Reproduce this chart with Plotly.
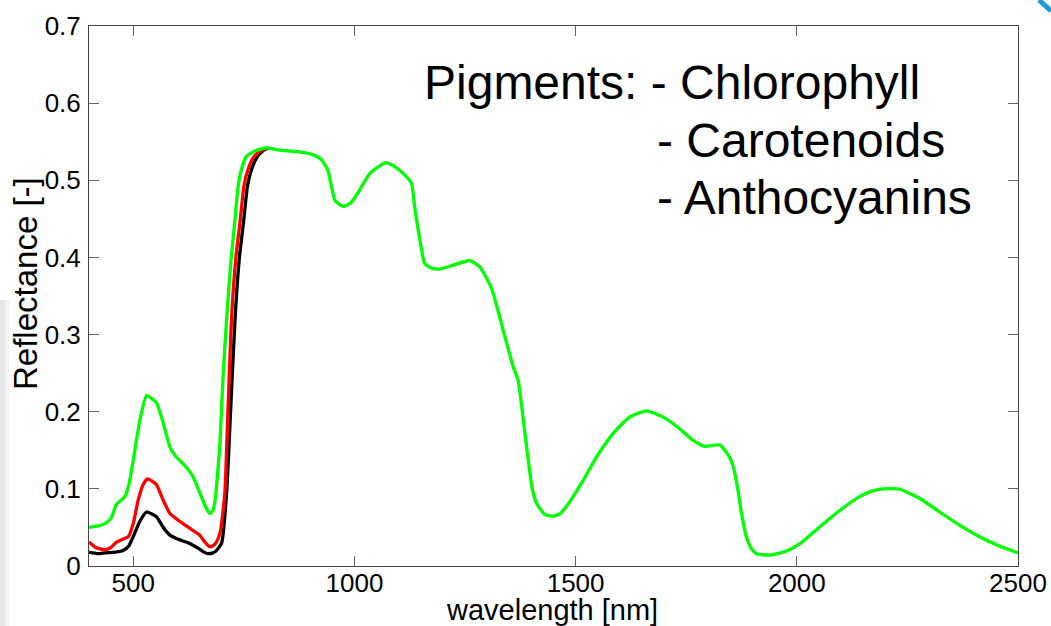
import plotly.graph_objects as go

# Leaf reflectance spectra (wavelength in nm, reflectance unitless)
wl_green = [400, 420, 436, 450, 462, 481, 490, 500, 515, 530, 540, 553, 568, 583, 595,
            605, 620, 635, 651, 665, 673, 680, 685, 690, 696, 703, 711, 720, 730, 737,
            745, 756, 775, 801, 831, 870, 907, 925, 940, 956, 974, 990, 1005, 1035, 1071,
            1090, 1110, 1129, 1136, 1148, 1159, 1175, 1193, 1223, 1261, 1283, 1310, 1336,
            1359, 1370, 1381, 1393, 1402, 1412, 1430, 1449, 1465, 1479, 1517, 1547, 1585,
            1622, 1660, 1698, 1735, 1765, 1792, 1826, 1848, 1858, 1867, 1876, 1886, 1898,
            1909, 1939, 1977, 2007, 2052, 2097, 2142, 2170, 2195, 2233, 2278, 2323, 2368,
            2413, 2459, 2500]
refl_green = [0.050, 0.052, 0.055, 0.062, 0.080, 0.090, 0.105, 0.137, 0.189, 0.221, 0.218,
              0.211, 0.185, 0.154, 0.143, 0.137, 0.128, 0.116, 0.094, 0.075, 0.068, 0.072,
              0.085, 0.115, 0.159, 0.245, 0.319, 0.390, 0.449, 0.492, 0.515, 0.531, 0.538,
              0.542, 0.539, 0.537, 0.533, 0.527, 0.513, 0.474, 0.466, 0.470, 0.481, 0.509,
              0.523, 0.518, 0.509, 0.496, 0.466, 0.423, 0.392, 0.386, 0.385, 0.390, 0.396,
              0.388, 0.360, 0.306, 0.258, 0.241, 0.193, 0.137, 0.100, 0.081, 0.067, 0.0645,
              0.068, 0.077, 0.111, 0.141, 0.172, 0.193, 0.201, 0.193, 0.178, 0.163, 0.155,
              0.157, 0.141, 0.125, 0.098, 0.065, 0.038, 0.022, 0.016, 0.014, 0.0195, 0.029,
              0.051, 0.072, 0.090, 0.097, 0.100, 0.0995, 0.0875, 0.070, 0.053, 0.038, 0.0256,
              0.017]

wl_red = [400, 415, 436, 450, 462, 477, 489, 500, 511, 522, 532, 545, 553, 568, 583, 600,
          620, 635, 650, 662, 673, 682, 688, 697, 707, 714, 722, 732, 742, 750, 760, 772,
          790, 801]
refl_red = [0.031, 0.024, 0.021, 0.024, 0.031, 0.035, 0.038, 0.055, 0.085, 0.105, 0.113,
            0.109, 0.105, 0.085, 0.068, 0.060, 0.052, 0.046, 0.040, 0.031, 0.025, 0.027,
            0.031, 0.045, 0.094, 0.200, 0.319, 0.400, 0.449, 0.492, 0.515, 0.530, 0.539,
            0.542]

wl_black = [400, 420, 436, 460, 477, 490, 500, 515, 530, 540, 553, 568, 583, 600, 620, 635,
            650, 660, 669, 680, 688, 700, 711, 720, 730, 740, 750, 758, 768, 780, 795, 805]
refl_black = [0.018, 0.016, 0.017, 0.018, 0.020, 0.026, 0.038, 0.058, 0.070, 0.068, 0.0636,
              0.050, 0.040, 0.035, 0.031, 0.027, 0.022, 0.018, 0.016, 0.017, 0.020, 0.030,
              0.094, 0.200, 0.319, 0.400, 0.449, 0.492, 0.515, 0.530, 0.539, 0.542]

x_ticks = [500, 1000, 1500, 2000, 2500]
y_ticks = [0, 0.1, 0.2, 0.3, 0.4, 0.5, 0.6, 0.7]
y_tick_text = ["0", "0.1", "0.2", "0.3", "0.4", "0.5", "0.6", "0.7"]

pigment_lines = ["Pigments: - Chlorophyll", "- Carotenoids", "- Anthocyanins"]

FONT = "Liberation Sans, Arial, sans-serif"
W, H = 1051, 626
ML, MR, MT, MB = 89, 33, 26, 60
PW, PH = W - ML - MR, H - MT - MB


def px_x(px):
    return (px - ML) / PW


def px_y(py):
    return (H - MB - py) / PH


fig = go.Figure()
for xs, ys, col in [(wl_black, refl_black, "#000000"),
                    (wl_red, refl_red, "#ff0000"),
                    (wl_green, refl_green, "#00ff00")]:
    fig.add_trace(go.Scatter(x=xs, y=ys, mode="lines",
                             line=dict(color=col, width=3.3, shape="spline", smoothing=0.5),
                             showlegend=False, hoverinfo="skip"))

axis_common = dict(showgrid=False, zeroline=False, showline=True, linecolor="#444444",
                   linewidth=1, mirror="ticks", ticks="inside", ticklen=10, tickwidth=1,
                   tickcolor="#666666", tickfont=dict(family=FONT, size=26, color="#000000"))

fig.update_xaxes(range=[400, 2500], tickvals=x_ticks, ticklabelstandoff=-6, **axis_common)
fig.update_yaxes(range=[0, 0.7], tickvals=y_ticks, ticktext=y_tick_text,
                 ticklabelstandoff=2, **axis_common)

annotations = [
    dict(text="wavelength [nm]", xref="paper", yref="paper", x=px_x(552), y=px_y(627),
         xanchor="center", yanchor="bottom", showarrow=False, borderpad=0,
         font=dict(family=FONT, size=29, color="#000000")),
    dict(text="Reflectance [-]", xref="paper", yref="paper", x=px_x(25), y=px_y(284),
         xanchor="center", yanchor="middle", textangle=-90, showarrow=False,
         font=dict(family=FONT, size=33, color="#000000")),
]
line_pos = [(422, 83), (655, 140), (655, 197)]
for txt, (lx, ly) in zip(pigment_lines, line_pos):
    annotations.append(dict(text=txt, xref="paper", yref="paper", x=px_x(lx), y=px_y(ly),
                            xanchor="left", yanchor="middle", showarrow=False,
                            font=dict(family=FONT, size=48, color="#000000")))

shapes = [
    # soft grey band at the left page edge
    dict(type="rect", xref="paper", yref="paper", x0=px_x(0), x1=px_x(5),
         y0=px_y(626), y1=px_y(300), fillcolor="#e6e6e6", line=dict(width=0), layer="below"),
    dict(type="rect", xref="paper", yref="paper", x0=px_x(5), x1=px_x(9),
         y0=px_y(626), y1=px_y(300), fillcolor="#f2f2f2", line=dict(width=0), layer="below"),
    # blue accent in the top-right corner
    dict(type="line", xref="paper", yref="paper", x0=px_x(1039), x1=px_x(1051),
         y0=px_y(0), y1=px_y(11), line=dict(color="#1a9ad6", width=5)),
]

fig.update_layout(width=W, height=H, margin=dict(l=ML, r=MR, t=MT, b=MB, autoexpand=False),
                  paper_bgcolor="#ffffff", plot_bgcolor="#ffffff",
                  annotations=annotations, shapes=shapes)

fig.write_html("out.html")
